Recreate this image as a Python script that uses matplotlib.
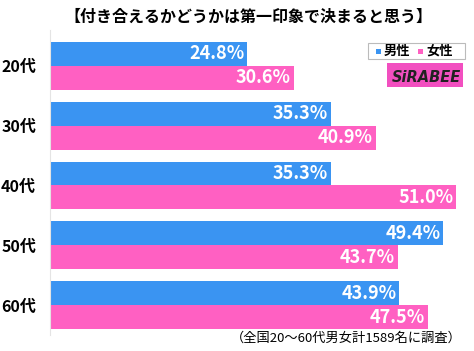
import numpy as np
import matplotlib.pyplot as plt
from matplotlib.patches import Rectangle

plt.rcParams['font.family'] = ['Noto Sans CJK JP', 'DejaVu Sans']

title = '【付き合えるかどうかは第一印象で決まると思う】'
note = '（全国20～60代男女計1589名に調査）'
ages = ['20代', '30代', '40代', '50代', '60代']
male = [24.8, 35.3, 35.3, 49.4, 43.9]
female = [30.6, 40.9, 51.0, 43.7, 47.5]

blue = '#3a94f2'
pink = '#ff60c2'

W, H = 474, 351
fig = plt.figure(figsize=(W / 100, H / 100), dpi=100)
ax = fig.add_axes([50 / W, 1 - 335 / H, 420 / W, 305 / H])

pxper = 7.96
y = np.arange(len(ages))
ax.barh(y - 0.2, male, height=0.4, color=blue)
ax.barh(y + 0.2, female, height=0.4, color=pink)
ax.set_xlim(0, 420 / pxper)
ax.set_ylim(4.5, -0.6)

for i in range(len(ages)):
    ax.annotate(f'{male[i]:.1f}%', (male[i], i - 0.2), xytext=(-2, 0),
                textcoords='offset points', ha='right', va='center',
                color='white', fontsize=13, fontweight='bold')
    ax.annotate(f'{female[i]:.1f}%', (female[i], i + 0.2), xytext=(-2, 0),
                textcoords='offset points', ha='right', va='center',
                color='white', fontsize=13, fontweight='bold')

ax.set_yticks(y)
ax.set_yticklabels(ages, fontsize=11.5, fontweight='bold')
ax.tick_params(axis='y', length=0, pad=10)
ax.set_xticks([])
for s in ['top', 'right', 'bottom']:
    ax.spines[s].set_visible(False)
ax.spines['left'].set_color('#e4e4e4')

fig.text(248 / W, 1 - 17 / H, title, ha='center', va='center',
         fontsize=11.5, fontweight='bold')
fig.text(462 / W, 1 - 338 / H, note, ha='right', va='center', fontsize=9.5)

# legend box
fig.patches.append(Rectangle((368 / W, 1 - 59 / H), 97 / W, 16 / H,
                             transform=fig.transFigure, facecolor='white',
                             edgecolor='#bbbbbb', lw=0.8))
fig.patches.append(Rectangle((376 / W, 1 - 53.5 / H), 5 / W, 5 / H,
                             transform=fig.transFigure, facecolor=blue,
                             edgecolor='none'))
fig.text(384 / W, 1 - 51 / H, '男性', fontsize=9.5, fontweight='bold', va='center')
fig.patches.append(Rectangle((418 / W, 1 - 53.5 / H), 5 / W, 5 / H,
                             transform=fig.transFigure, facecolor=pink,
                             edgecolor='none'))
fig.text(426 / W, 1 - 51 / H, '女性', fontsize=9.5, fontweight='bold', va='center')

# logo
fig.patches.append(Rectangle((387 / W, 1 - 87 / H), 76 / W, 24 / H,
                             transform=fig.transFigure, facecolor='#f24fc0',
                             edgecolor='none'))
fig.text(426 / W, 1 - 77 / H, 'SiRABEE', ha='center', va='center',
         fontsize=10.5, fontweight='bold', style='italic', color='#222222',
         family='DejaVu Sans')

fig.savefig('out.png', dpi=100)
